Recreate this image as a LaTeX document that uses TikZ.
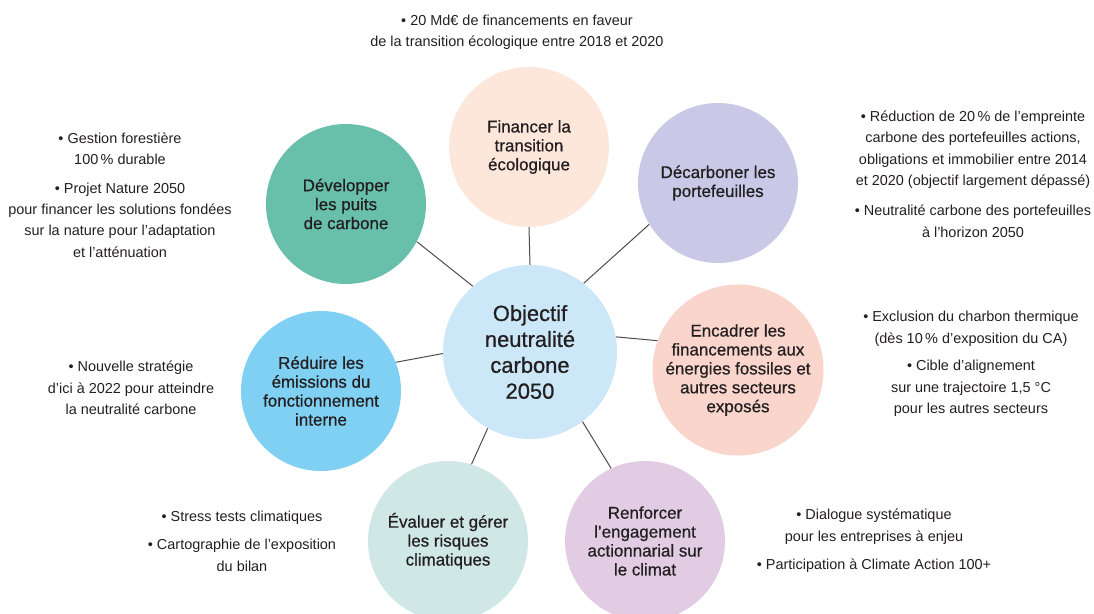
\documentclass[tikz,border=0pt]{standalone}
\usepackage{fontspec}
\setmainfont{Liberation Sans}
\newfontfamily\medio[FakeBold=0.7]{Liberation Sans}

\definecolor{testo}{HTML}{231F20}
\definecolor{centro}{HTML}{CBE7F8}
\definecolor{verde}{HTML}{68C0AA}
\definecolor{pesca}{HTML}{FDE6DA}
\definecolor{lavanda}{HTML}{C9C9E7}
\definecolor{celeste}{HTML}{80D0F3}
\definecolor{salmone}{HTML}{F9D5CC}
\definecolor{acqua}{HTML}{CFE8E5}
\definecolor{lilla}{HTML}{E1CCE4}

\begin{document}
\begin{tikzpicture}[x=1bp, y=-1bp]
	% Stili: cerchi, note e linee di collegamento
	\tikzset{
		cerchio/.style={circle, minimum size=160bp, inner sep=0pt, align=center, text=testo, font=\medio\fontsize{17}{19}\selectfont},
		nota/.style={align=center, inner sep=0pt, text=testo, font=\fontsize{14.5}{21.5}\selectfont},
		legame/.style={draw=black!70, line width=1bp}
	}
	\useasboundingbox (0,0) rectangle (1094,614);
	
	% Cerchio centrale
	\node[cerchio, fill=centro, minimum size=174bp, font=\medio\fontsize{22}{26}\selectfont] (obj) at (530,352) {Objectif\\neutralité\\carbone\\2050};
	
	% Cerchi esterni
	\node[cerchio, fill=verde] (dev) at (346,204) {Développer\\les puits\\de carbone};
	\node[cerchio, fill=pesca] (fin) at (529,147) {Financer la\\transition\\écologique};
	\node[cerchio, fill=lavanda] (dec) at (718,183) {Décarboner les\\portefeuilles};
	\node[cerchio, fill=celeste] (red) at (321,391) {Réduire les\\émissions du\\fonctionnement\\interne};
	\node[cerchio, fill=salmone] (enc) at (738,370) {Encadrer les\\financements aux\\énergies fossiles et\\autres secteurs\\exposés};
	\node[cerchio, fill=acqua] (eva) at (448,541) {Évaluer et gérer\\les risques\\climatiques};
	\node[cerchio, fill=lilla] (ren) at (645,541) {Renforcer\\l’engagement\\actionnarial sur\\le climat};
	
	% Collegamenti al centro
	\draw[legame] (obj.131) -- (dev.-28);
	\draw[legame] (obj.90) -- (fin.-90);
	\draw[legame] (obj.52) -- (dec.211);
	\draw[legame] (obj.181) -- (red.21);
	\draw[legame] (obj.10) -- (enc.160);
	\draw[legame] (obj.241) -- (eva.73);
	\draw[legame] (obj.307) -- (ren.115);
	
	% Note accanto ai cerchi
	\node[nota] (nfin) at (517,32) {• 20 Md€ de financements en faveur\\de la transition écologique entre 2018 et 2020};
	\node[nota] (ndev) at (120,195) {• Gestion forestière\\100\,\% durable\\[7bp]• Projet Nature 2050\\pour financer les solutions fondées\\sur la nature pour l’adaptation\\et l’atténuation};
	\node[nota] (ndec) at (973,174) {• Réduction de 20\,\% de l’empreinte\\carbone des portefeuilles actions,\\obligations et immobilier entre 2014\\et 2020 (objectif largement dépassé)\\[9bp]• Neutralité carbone des portefeuilles\\à l’horizon 2050};
	\node[nota] (nred) at (131,388) {• Nouvelle stratégie\\d’ici à 2022 pour atteindre\\la neutralité carbone};
	\node[nota] (nenc) at (971,364) {• Exclusion du charbon thermique\\(dès 10\,\% d’exposition du CA)\\[6bp]• Cible d’alignement\\sur une trajectoire 1,5 °C\\pour les autres secteurs};
	\node[nota] (neva) at (242,541) {• Stress tests climatiques\\[7bp]• Cartographie de l’exposition\\du bilan};
	\node[nota] (nren) at (874,541) {• Dialogue systématique\\pour les entreprises à enjeu\\[7bp]• Participation à Climate Action 100+};
\end{tikzpicture}
\end{document}
